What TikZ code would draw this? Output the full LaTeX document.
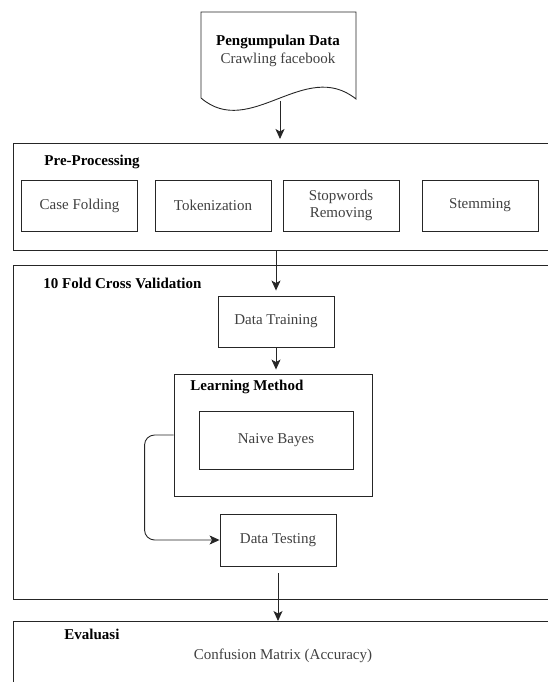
\documentclass[tikz,border=0pt]{standalone}
\usepackage{fontspec}
\setmainfont{Liberation Serif}
\usetikzlibrary{arrows.meta,positioning}
\begin{document}
\begin{tikzpicture}[x=1pt,y=-1pt,line width=0.9pt,color=black!85,
  font=\fontsize{15}{18}\selectfont,
  box/.style={draw,rectangle,minimum width=116pt,minimum height=51pt,align=center,inner sep=0pt,text=black!75},
  frame/.style={draw,rectangle,anchor=north west,minimum width=600pt,inner sep=0pt},
  title/.style={anchor=west,inner sep=0pt,font=\fontsize{15}{18}\selectfont\bfseries,text=black},
  arr/.style={-{Stealth[length=10pt,width=9pt,inset=2.5pt]}}]
  \useasboundingbox (0,0) rectangle (547,682);

  % Document shape for data collection
  \draw (201,98) -- (201,12) -- (356,12) -- (356,99)
    .. controls (305,58) and (250,140) .. (201,98);
  \node[inner sep=0pt,align=center,text=black!75] (doc) at (278,51)
    {\textcolor{black}{\textbf{Pengumpulan Data}}\\Crawling facebook};
  \coordinate (docbot) at (280,101);

  % Pre-processing stage
  \node[frame,minimum height=107pt] (pre) at (13,143) {};
  \node[title] (pretitle) at (44,162) {Pre-Processing};
  \node[box] (fold) at (79.5,205.5) {Case Folding};
  \node[box] (token) at (213,205.5) {Tokenization};
  \node[box] (stop) at (341,205.5) {Stopwords\\[-1pt]Removing};
  \node[box] (stem) at (480,205.5) {Stemming};

  % Cross validation stage
  \node[frame,minimum height=334pt] (cv) at (13,265) {};
  \node[title] (cvtitle) at (43,283) {10 Fold Cross Validation};
  \node[box] (train) at (276,321.5) {Data Training};
  \node[draw,rectangle,minimum width=198pt,minimum height=122pt,inner sep=0pt] (lm) at (273,435) {};
  \node[title] (lmtitle) at (190,387) {Learning Method};
  \node[box,minimum width=154pt,minimum height=58pt] (nb) at (276,440) {Naive Bayes};
  \node[box,minimum height=52pt] (test) at (278,540) {Data Testing};

  % Evaluation stage
  \node[frame,minimum height=150pt] (ev) at (13,621) {};
  \node[title] (evtitle) at (64,634) {Evaluasi};
  \node[inner sep=0pt,text=black!75] (conf) at (283,656) {Confusion Matrix (Accuracy)};

  % Flow
  \draw[arr,shorten >=4pt] (docbot) -- (docbot |- pre.north);
  \draw[arr,shorten >=5pt] (pre.south -| train) -- (train.north);
  \draw[arr,shorten >=4pt] (train.south) -- (train.south |- lm.north);
  \draw[arr,rounded corners=10pt] (lm.west) -- ++(-29,0) |- (test.west);
  \draw[arr,shorten <=7pt] (test.south) -- (test.south |- ev.north);
\end{tikzpicture}
\end{document}
